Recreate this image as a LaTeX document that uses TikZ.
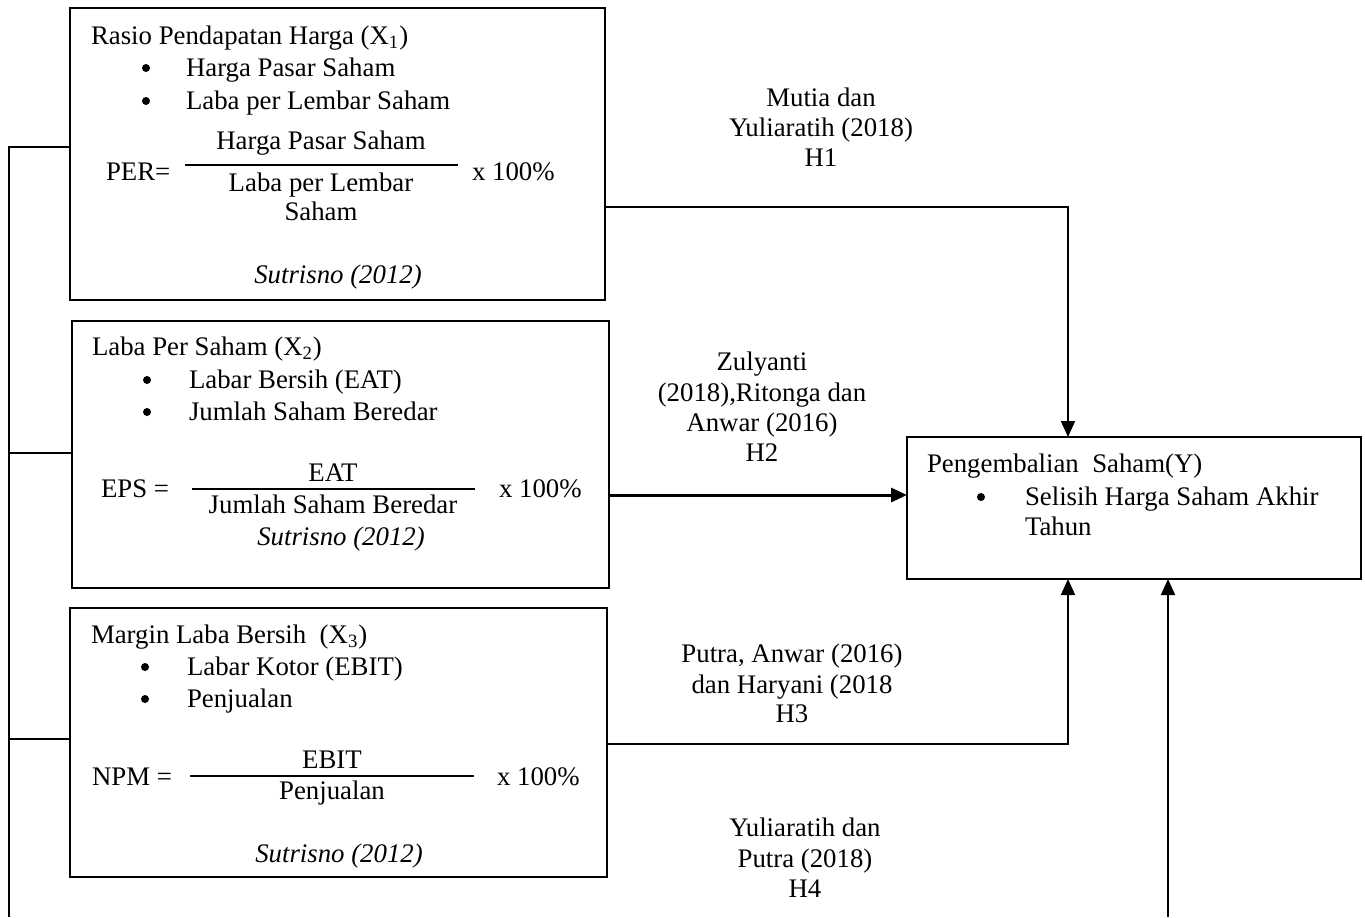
\documentclass[tikz,border=0pt]{standalone}
\usepackage{fontspec}
\setmainfont{Liberation Serif}
\usetikzlibrary{arrows.meta}
\begin{document}
\begin{tikzpicture}[x=0.5pt,y=-0.5pt,
  every node/.style={inner sep=0pt, outer sep=0pt, font=\fontsize{13.4pt}{16pt}\selectfont},
  box/.style={draw, line width=1pt},
  txt/.style={anchor=base west},
  ctr/.style={anchor=base},
  bul/.style={circle, fill, minimum size=4pt},
  cite/.style={anchor=base, font=\fontsize{13.4pt}{16pt}\selectfont\itshape},
  fracline/.style={line width=1pt},
  conn/.style={line width=1pt},
  arr/.style={line width=1pt, -{Triangle[length=8pt,width=7pt]}},
  arrthick/.style={line width=1.5pt, -{Triangle[length=8pt,width=7pt]}}]
\useasboundingbox (0,0) rectangle (1365,917);

% boxes
\node[box, minimum width=267.5pt, minimum height=146pt] (x1) at (337.5,154) {};
\node[box, minimum width=268.5pt, minimum height=133.5pt] (x2) at (340.5,454.5) {};
\node[box, minimum width=268.5pt, minimum height=134.5pt] (x3) at (338.5,742.5) {};
\node[box, minimum width=227pt, minimum height=71pt] (y) at (1134,508) {};

% box 1 content
\node[txt] (t1) at (91,44) {Rasio Pendapatan Harga (X\textsubscript{1})};
\node[bul] (b1a) at (146,68) {};
\node[txt] (t1a) at (186,76) {Harga Pasar Saham};
\node[bul] (b1b) at (146,101) {};
\node[txt] (t1b) at (186,109) {Laba per Lembar Saham};
\node[ctr] (n1) at (321,149) {Harga Pasar Saham};
\draw[fracline] (185,165) -- (458,165);
\node[txt] (p1) at (106,180) {PER=};
\node[txt] (m1) at (472,180) {x 100\%};
\node[ctr] (d1a) at (321,191) {Laba per Lembar};
\node[ctr] (d1b) at (321,220) {Saham};
\node[cite] (s1) at (338,283) {Sutrisno (2012)};

% box 2 content
\node[txt] (t2) at (92,355) {Laba Per Saham (X\textsubscript{2})};
\node[bul] (b2a) at (147,380) {};
\node[txt] (t2a) at (189,388) {Labar Bersih (EAT)};
\node[bul] (b2b) at (147,412) {};
\node[txt] (t2b) at (189,420) {Jumlah Saham Beredar};
\node[ctr] (n2) at (333,481) {EAT};
\draw[fracline] (192,489) -- (475,489);
\node[txt] (p2) at (101,497) {EPS =};
\node[txt] (m2) at (499,497) {x 100\%};
\node[ctr] (d2) at (333,513) {Jumlah Saham Beredar};
\node[cite] (s2) at (341,545) {Sutrisno (2012)};

% box 3 content
\node[txt] (t3) at (91,643) {Margin Laba Bersih~ (X\textsubscript{3})};
\node[bul] (b3a) at (145,667) {};
\node[txt] (t3a) at (187,675) {Labar Kotor (EBIT)};
\node[bul] (b3b) at (145,699) {};
\node[txt] (t3b) at (187,707) {Penjualan};
\node[ctr] (n3) at (332,768) {EBIT};
\draw[fracline] (190,776) -- (474,776);
\node[txt] (p3) at (92,785) {NPM =};
\node[txt] (m3) at (497,785) {x 100\%};
\node[ctr] (d3) at (332,799) {Penjualan};
\node[cite] (s3) at (339,862) {Sutrisno (2012)};

% Y box content
\node[txt] (ty) at (927,472) {Pengembalian~ Saham(Y)};
\node[bul] (by) at (981,497) {};
\node[txt] (tya) at (1025,505) {Selisih Harga Saham Akhir};
\node[txt] (tyb) at (1025,535) {Tahun};

% labels
\node[ctr] (l1a) at (821,106) {Mutia dan};
\node[ctr] (l1b) at (821,136) {Yuliaratih (2018)};
\node[ctr] (l1c) at (821,166) {H1};
\node[ctr] (l2a) at (762,370) {Zulyanti};
\node[ctr] (l2b) at (762,401) {(2018),Ritonga dan};
\node[ctr] (l2c) at (762,431) {Anwar (2016)};
\node[ctr] (l2d) at (762,461) {H2};
\node[ctr] (l3a) at (792,662) {Putra, Anwar (2016)};
\node[ctr] (l3b) at (792,693) {dan Haryani (2018};
\node[ctr] (l3c) at (792,722) {H3};
\node[ctr] (l4a) at (805,836) {Yuliaratih dan};
\node[ctr] (l4b) at (805,867) {Putra (2018)};
\node[ctr] (l4c) at (805,897) {H4};

% left bus
\coordinate (bus1) at (9,147);
\coordinate (bus2) at (9,453);
\coordinate (bus3) at (9,739);
\coordinate (busend) at (9,917);
\draw[conn] (busend) -- (bus1) -- (bus1 -| x1.west);
\draw[conn] (bus2) -- (bus2 -| x2.west);
\draw[conn] (bus3) -- (bus3 -| x3.west);

% connectors
\coordinate (h1c) at (1068,207);
\draw[arr] (x1.east |- h1c) -- (h1c) -- (y.north -| h1c);
\coordinate (h2c) at (0,495);
\draw[arrthick] (x2.east |- h2c) -- (y.west |- h2c);
\coordinate (h3c) at (1068,744);
\draw[arr] (x3.east |- h3c) -- (h3c) -- (y.south -| h3c);
\coordinate (h4c) at (1168,917);
\draw[arr] (h4c) -- (y.south -| h4c);
\end{tikzpicture}
\end{document}
